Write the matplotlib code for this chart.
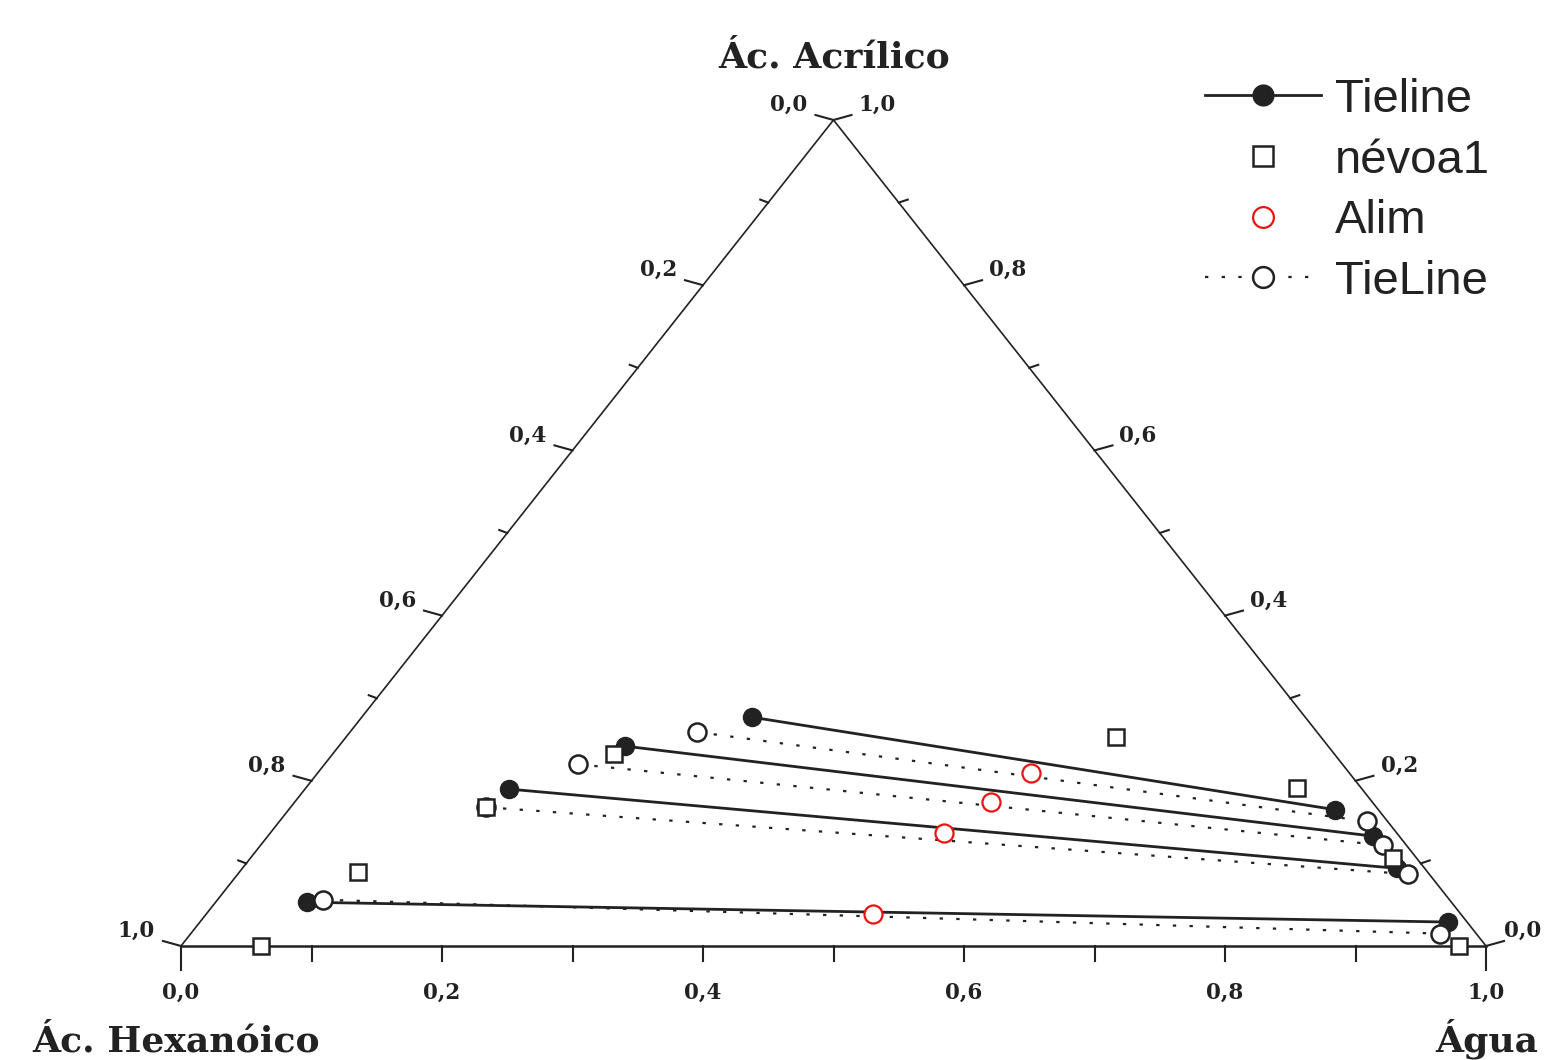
import numpy as np
from matplotlib import pyplot as plt

dpi = 100
figsize = (1544 / dpi, 1060 / dpi)
ink = '#222222'

# fractions read as (Ác. Acrílico, Água); Ác. Hexanóico = 1 - both
# Tieline (filled circles): extract side / water-rich side
tie_ext_acr = [0.277, 0.242, 0.190, 0.053]
tie_ext_wat = [0.299, 0.219, 0.156, 0.070]
tie_raf_acr = [0.165, 0.133, 0.094, 0.029]
tie_raf_wat = [0.802, 0.847, 0.885, 0.956]

# TieLine (open circles, dotted)
calc_ext_acr = [0.259, 0.220, 0.168, 0.056]
calc_ext_wat = [0.266, 0.194, 0.150, 0.081]
calc_raf_acr = [0.151, 0.122, 0.087, 0.015]
calc_raf_wat = [0.833, 0.860, 0.897, 0.957]

# névoa1
nevoa_acr = [0.0, 0.090, 0.168, 0.232, 0.253, 0.191, 0.107, 0.0]
nevoa_wat = [0.061, 0.091, 0.150, 0.216, 0.590, 0.760, 0.875, 0.979]

# Alim
alim_acr = [0.209, 0.174, 0.137, 0.039]
alim_wat = [0.547, 0.534, 0.516, 0.511]

tick_vals = np.round(np.arange(0, 1.01, 0.1), 1)
label_vals = [0.0, 0.2, 0.4, 0.6, 0.8, 1.0]


def tern(acr, wat):
    acr = np.asarray(acr, dtype=float)
    wat = np.asarray(wat, dtype=float)
    return wat + acr / 2, acr


def fmt(v):
    return '{:.1f}'.format(v).replace('.', ',')


fig = plt.figure(figsize=figsize, dpi=dpi)
ax = fig.add_axes([181 / 1544, 114 / 1060, 1305 / 1544, 826 / 1060])
ax.set_xlim(0, 1)
ax.set_ylim(0, 1)
ax.axis('off')

# one pixel in data units
px = 1 / 1305
py = 1 / 826
pt = 0.72  # points per pixel

# triangle
ax.plot([0, 0.5, 1], [0, 1, 0], '-', color=ink, lw=1.2, clip_on=False)
ax.plot([0, 1], [0, 0], '-', color=ink, lw=1.8, clip_on=False)

# ticks
for v in tick_vals:
    major = v in label_vals
    # bottom (Água)
    L = 24 if v in (0.0, 1.0) else 15
    ax.plot([v, v], [0, -L * py], '-', color=ink, lw=1.5, clip_on=False)
    # left (Ác. Hexanóico)
    x, y = tern(1 - v, 0)
    dx, dy = (18, 5) if major else (8, 3)
    ax.plot([x, x - dx * px], [y, y + dy * py], '-', color=ink, lw=1.5, clip_on=False)
    # right (Ác. Acrílico)
    x, y = tern(v, 1 - v)
    dx, dy = (18, 5) if major else (9, 3)
    ax.plot([x, x + dx * px], [y, y + dy * py], '-', color=ink, lw=1.5, clip_on=False)

tick_font = dict(family='DejaVu Serif', weight='bold', size=15.5, color=ink)
for v in label_vals:
    ax.annotate(fmt(v), xy=(v, 0), xytext=(0, -47 * pt), textcoords='offset points',
                ha='center', va='center', **tick_font)
    ax.annotate(fmt(v), xy=tern(1 - v, 0), xytext=(-26 * pt, 15 * pt),
                textcoords='offset points', ha='right', va='center', **tick_font)
    off = 18 if v == 0.0 else 25  # keep the corner label inside the figure
    ax.annotate(fmt(v), xy=tern(v, 1 - v), xytext=(off * pt, 15 * pt),
                textcoords='offset points', ha='left', va='center', **tick_font)

title_font = dict(family='DejaVu Serif', weight='bold', size=26, color=ink)
ax.annotate('Ác. Acrílico', xy=(0.5, 1), xytext=(1 * pt, 62 * pt),
            textcoords='offset points', ha='center', va='center', **title_font)
ax.annotate('Ác. Hexanóico', xy=(0, 0), xytext=(-5 * pt, -95 * pt),
            textcoords='offset points', ha='center', va='center', **title_font)
ax.annotate('Água', xy=(1, 0), xytext=(1 * pt, -93 * pt),
            textcoords='offset points', ha='center', va='center', **title_font)

# data
ms = 13
for i in range(len(tie_ext_acr)):
    xs, ys = tern([tie_ext_acr[i], tie_raf_acr[i]], [tie_ext_wat[i], tie_raf_wat[i]])
    h1, = ax.plot(xs, ys, '-o', color=ink, lw=2, ms=ms, mfc=ink, mec=ink,
                  zorder=3, clip_on=False)
    xs, ys = tern([calc_ext_acr[i], calc_raf_acr[i]], [calc_ext_wat[i], calc_raf_wat[i]])
    h4, = ax.plot(xs, ys, 'o', ls=(0, (1.5, 6)), color=ink, lw=1.6, ms=ms, mfc='white',
                  mec=ink, mew=1.8, zorder=4, clip_on=False)

xs, ys = tern(nevoa_acr, nevoa_wat)
h2, = ax.plot(xs, ys, 's', ls='none', ms=12, mfc='white', mec=ink, mew=1.8,
              zorder=5, clip_on=False)
xs, ys = tern(alim_acr, alim_wat)
h3, = ax.plot(xs, ys, 'o', ls='none', ms=ms, mfc='white', mec='#ee1111', mew=1.6,
              zorder=6, clip_on=False)

leg = ax.legend([h1, h2, h3, h4], ['Tieline', 'névoa1', 'Alim', 'TieLine'],
                loc='upper left', bbox_to_anchor=(1205 / 1544, 1 - 78 / 1060),
                bbox_transform=fig.transFigure, frameon=False, borderpad=0,
                borderaxespad=0, handlelength=2.45, handletextpad=0.3,
                labelspacing=0.35, markerscale=1.15,
                prop={'family': 'Liberation Sans', 'size': 34})
for t in leg.get_texts():
    t.set_color(ink)

fig.savefig('out.png', dpi=dpi)
